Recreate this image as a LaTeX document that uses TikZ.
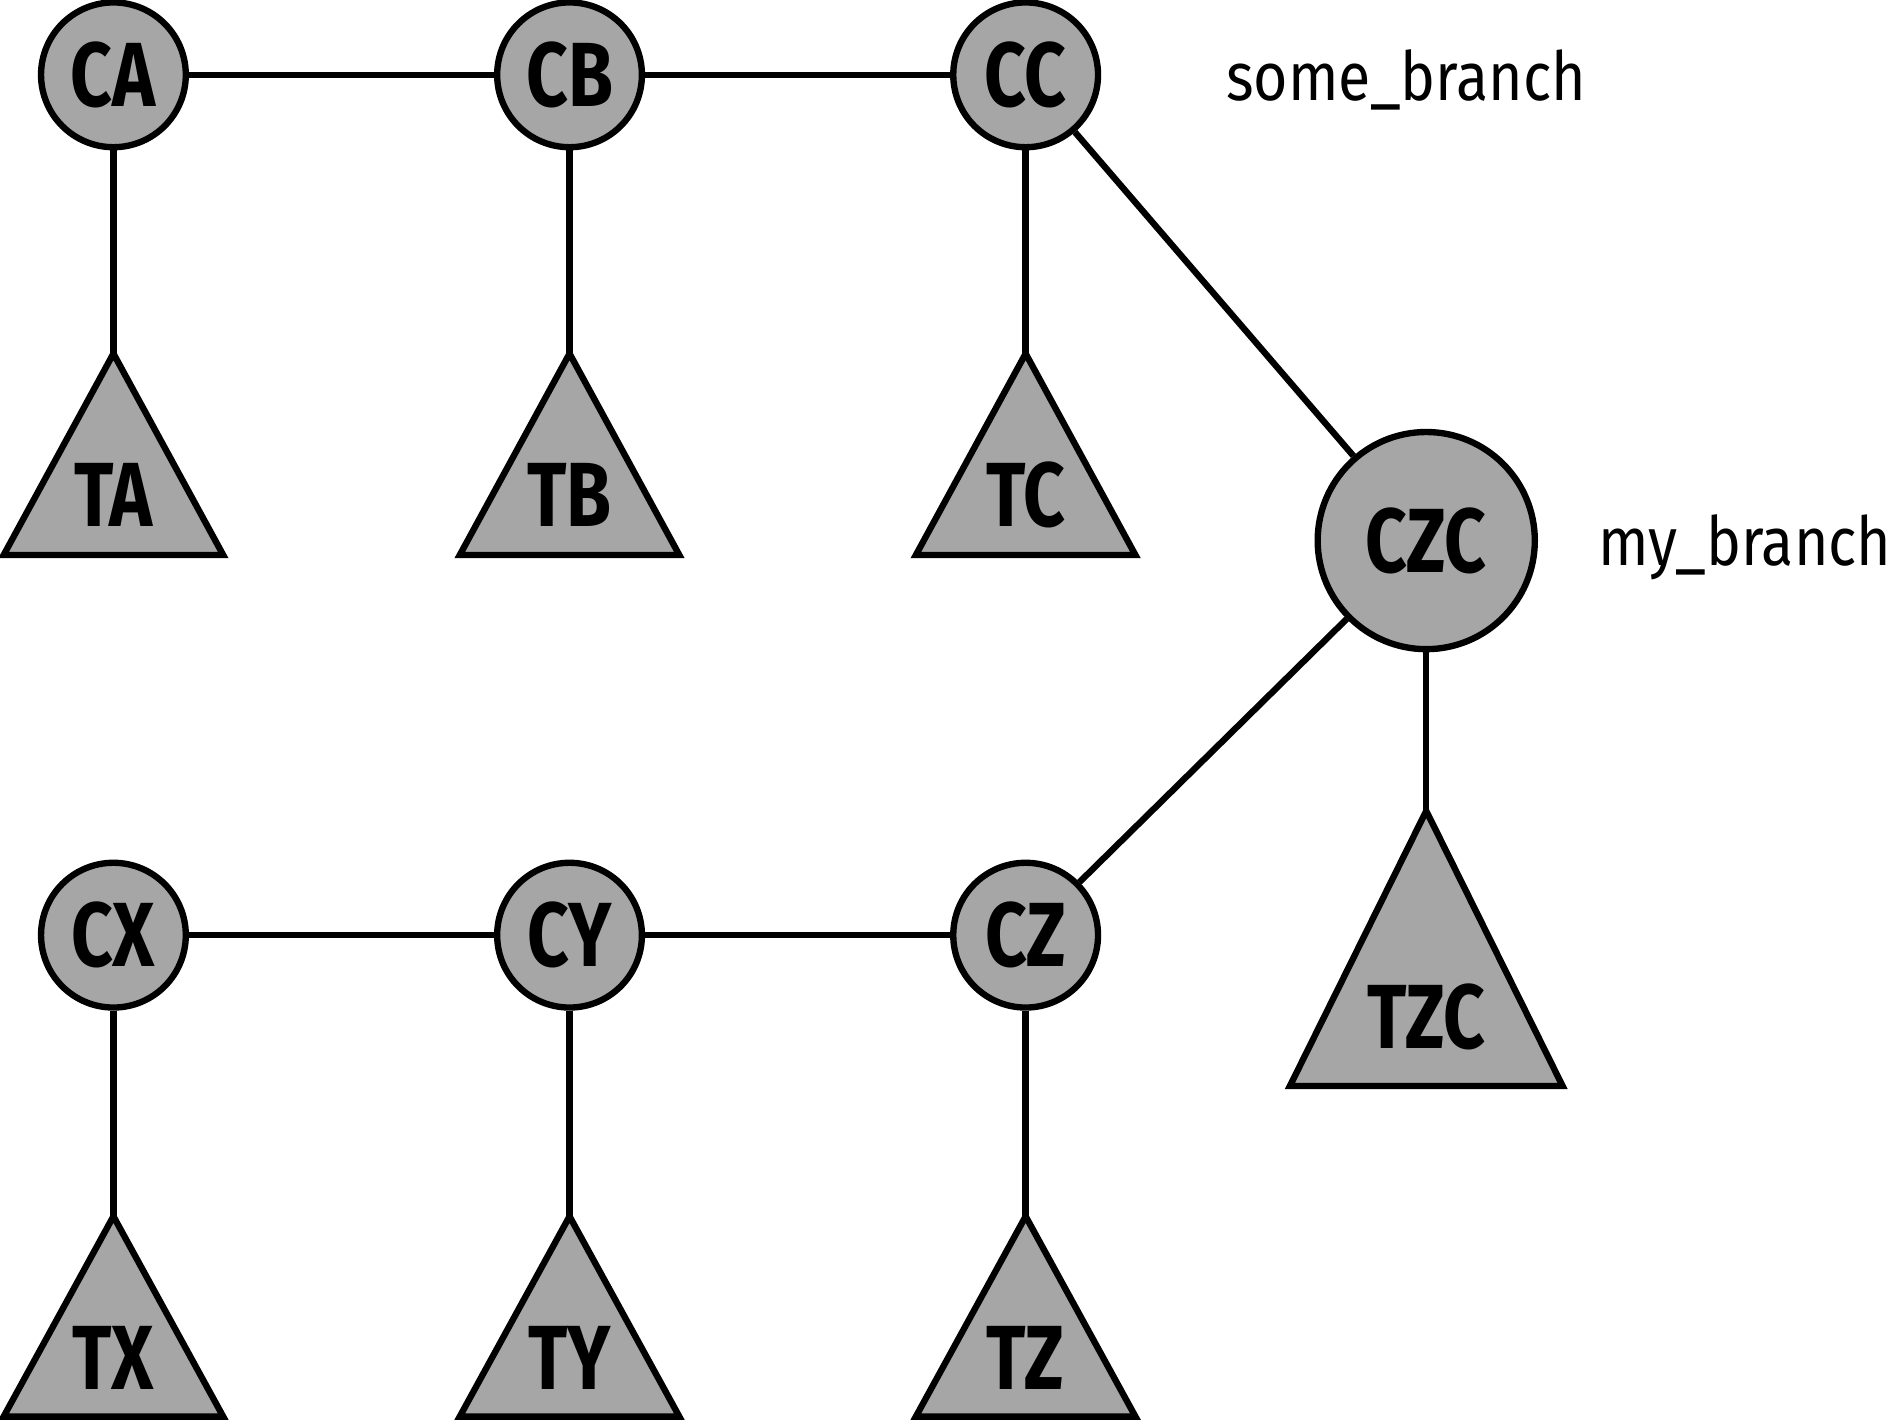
\documentclass[tikz,border=0pt]{standalone}
\usepackage{fontspec}
\newfontfamily\lblfont[FakeStretch=0.8]{Fira Sans}
\newfontfamily\brfont[FakeStretch=0.87]{Fira Sans}
\definecolor{treegray}{RGB}{166,166,166}
\newcommand\mytri[6]{% name, x, apex y, half width, base y, label y
  \coordinate (#1top) at (#2,#3);
  \coordinate (#1bl) at ({#2-#4},#5);
  \coordinate (#1br) at ({#2+#4},#5);
  \draw[treeline,fill=treegray] (#1top) -- (#1bl) -- (#1br) -- cycle;
  \node[treelabel] (#1) at (#2,#6) {#1};
}
\begin{document}
\begin{tikzpicture}[x=0.02cm,y=-0.02cm,
  treeline/.style={draw=black,line width=3pt,line join=miter},
  commit/.style={circle,draw=black,line width=3pt,fill=treegray,minimum size=2.4cm,inner sep=0pt,
    font=\lblfont\bfseries\fontsize{43}{43}\selectfont},
  bigcommit/.style={commit,minimum size=3.6cm},
  treelabel/.style={inner sep=0pt,font=\lblfont\bfseries\fontsize{43}{43}\selectfont},
  branchlabel/.style={inner sep=0pt,anchor=base west,font=\brfont\fontsize{32}{32}\selectfont},
  edge/.style={draw=black,line width=3pt}]
\useasboundingbox (0,0) rectangle (1568,1178);
% commits
\node[commit] (CA) at (94,62) {CA};
\node[commit] (CB) at (472,62) {CB};
\node[commit] (CC) at (850,62) {CC};
\node[bigcommit] (CZC) at (1182,448) {CZC};
\node[commit] (CX) at (94,775) {CX};
\node[commit] (CY) at (472,775) {CY};
\node[commit] (CZ) at (850,775) {CZ};
% trees
\mytri{TA}{94}{293}{91}{460}{410}
\mytri{TB}{472}{293}{91}{460}{410}
\mytri{TC}{850}{293}{91}{460}{410}
\mytri{TZC}{1182}{672}{113}{900}{843}
\mytri{TX}{94}{1008}{91}{1174}{1125}
\mytri{TY}{472}{1008}{91}{1174}{1125}
\mytri{TZ}{850}{1008}{91}{1174}{1125}
% branch labels
\node[branchlabel] (sb) at (1016,83) {some\_branch};
\node[branchlabel] (mb) at (1324,469) {my\_branch};
% connectors
\draw[edge] (CA) -- (CB);
\draw[edge] (CB) -- (CC);
\draw[edge] (CX) -- (CY);
\draw[edge] (CY) -- (CZ);
\draw[edge] (CC) -- (CZC);
\draw[edge] (CZ) -- (CZC);
\draw[edge] (CA) -- (TAtop);
\draw[edge] (CB) -- (TBtop);
\draw[edge] (CC) -- (TCtop);
\draw[edge] (CZC) -- (TZCtop);
\draw[edge] (CX) -- (TXtop);
\draw[edge] (CY) -- (TYtop);
\draw[edge] (CZ) -- (TZtop);
\end{tikzpicture}
\end{document}
